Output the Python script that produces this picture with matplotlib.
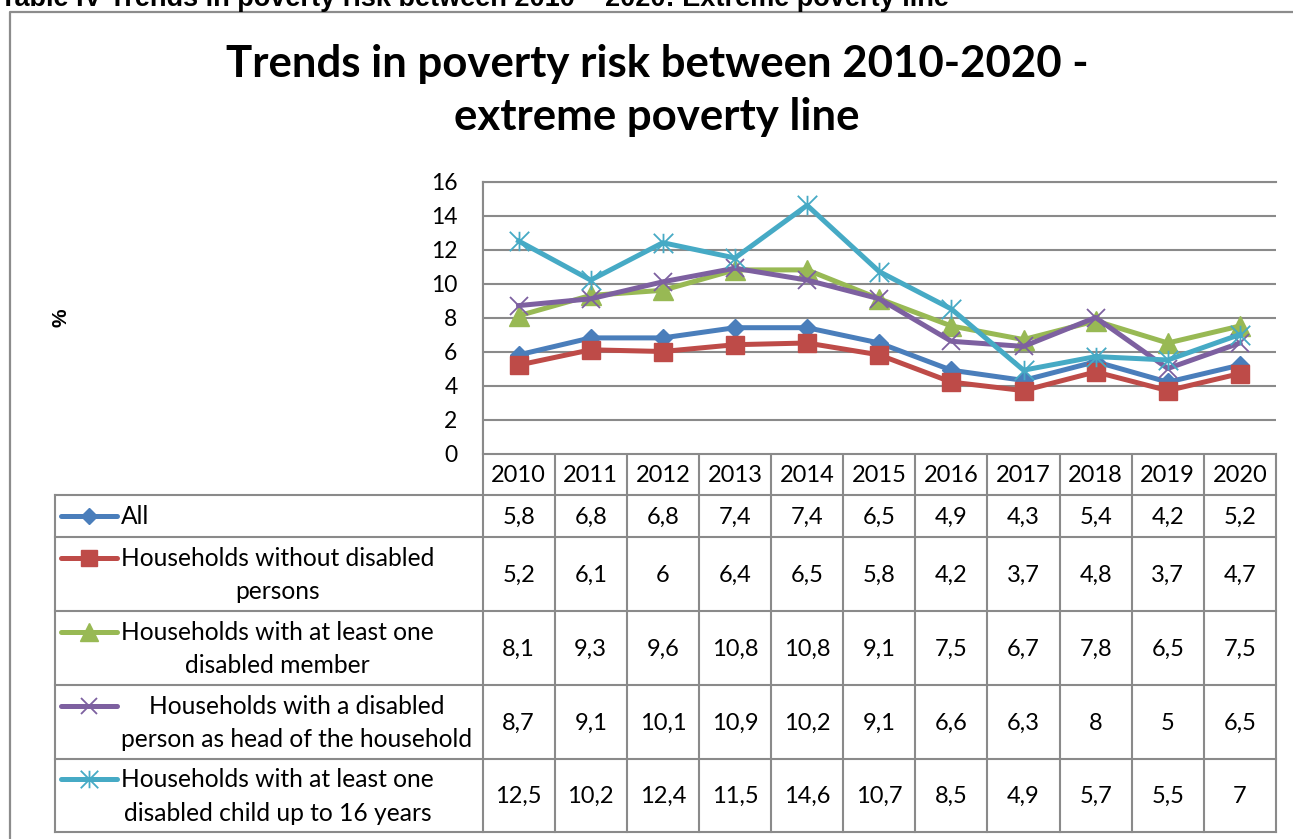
import matplotlib
matplotlib.use("Agg")
import matplotlib.pyplot as plt
from matplotlib.path import Path
from matplotlib.lines import Line2D
from matplotlib.transforms import blended_transform_factory

years = ["2010", "2011", "2012", "2013", "2014", "2015",
         "2016", "2017", "2018", "2019", "2020"]

all_hh = [5.8, 6.8, 6.8, 7.4, 7.4, 6.5, 4.9, 4.3, 5.4, 4.2, 5.2]
no_disabled = [5.2, 6.1, 6.0, 6.4, 6.5, 5.8, 4.2, 3.7, 4.8, 3.7, 4.7]
one_disabled = [8.1, 9.3, 9.6, 10.8, 10.8, 9.1, 7.5, 6.7, 7.8, 6.5, 7.5]
disabled_head = [8.7, 9.1, 10.1, 10.9, 10.2, 9.1, 6.6, 6.3, 8.0, 5.0, 6.5]
disabled_child = [12.5, 10.2, 12.4, 11.5, 14.6, 10.7, 8.5, 4.9, 5.7, 5.5, 7.0]

labels = [
    "All",
    "Households without disabled\npersons",
    "Households with at least one\ndisabled member",
    "Households with a disabled\nperson as head of the household",
    "Households with at least one\ndisabled child up to 16 years",
]

# excel style asterisk: an x with a vertical bar through it
star = Path([(-1, -1), (1, 1), (-1, 1), (1, -1), (0, -1), (0, 1)],
            [Path.MOVETO, Path.LINETO, Path.MOVETO, Path.LINETO, Path.MOVETO, Path.LINETO])

styles = [
    dict(color="#4A7EBB", marker="D", ms=9.5),
    dict(color="#BE4B48", marker="s", ms=13.5),
    dict(color="#98B954", marker="^", ms=15),
    dict(color="#7D60A0", marker="x", ms=13, mew=1.3),
    dict(color="#46AAC5", marker=star, ms=14, mew=1.3),
]
series = [all_hh, no_disabled, one_disabled, disabled_head, disabled_child]

W, H = 1293, 839
BODY = "Lato"
FS = 17
GRID = "#8A8A8A"

fig = plt.figure(figsize=(W / 100, H / 100), dpi=100)

def box(x0, y0, x1, y1):
    return [x0 / W, 1 - y1 / H, (x1 - x0) / W, (y1 - y0) / H]

# pixel overlay for borders, table and legend keys
over = fig.add_axes([0, 0, 1, 1])
over.set_xlim(0, W)
over.set_ylim(H, 0)
over.axis("off")

ax = fig.add_axes(box(482.5, 181.5, 1276, 453.5))
ax.set_xlim(-0.5, 10.5)
ax.set_ylim(0, 16)
ax.set_yticks(range(0, 17, 2))
ax.set_xticks([])
ax.yaxis.grid(True, color=GRID, lw=1.5)
ax.set_axisbelow(True)
for s in ["right", "bottom"]:
    ax.spines[s].set_visible(False)
for s in ["left", "top"]:
    ax.spines[s].set_color(GRID)
    ax.spines[s].set_linewidth(1.5)
ax.tick_params(axis="y", length=0, pad=18, labelsize=16.5)
for t in ax.get_yticklabels():
    t.set_fontfamily(BODY)

x = list(range(len(years)))
for vals, st in zip(series, styles):
    ax.plot(x, vals, color=st["color"], lw=3.6, marker=st["marker"],
            ms=st["ms"], mfc=st["color"], mec=st["color"],
            mew=st.get("mew", 1), clip_on=False, zorder=3)

# outer chart border
over.plot([10, 10, W + 5], [H + 5, 11.5, 11.5], color="#8C8C8C", lw=1.6, clip_on=False)

# caption above the chart, cut by the page edge
fig.text(0, 1 - 6 / H, "Table IV Trends in poverty risk between 2010 \u2013 2020: Extreme poverty line",
         fontsize=19.5, fontweight="bold", family="Liberation Sans", va="baseline", ha="left")

fig.text(657 / W, 1 - 77 / H, "Trends in poverty risk between 2010-2020 -",
         fontsize=31.5, fontweight="bold", family=BODY, ha="center", va="baseline")
fig.text(657 / W, 1 - 130 / H, "extreme poverty line",
         fontsize=31.5, fontweight="bold", family=BODY, ha="center", va="baseline")

fig.text(61 / W, 1 - 318 / H, "%", rotation=90, fontsize=15, fontweight="bold",
         family="Liberation Sans", ha="center", va="center")

# data table under the plot
col = blended_transform_factory(ax.transData, over.transData)
rows = [454, 495, 537, 611, 685, 759, 832]
left_px = 55
tab_kw = dict(color=GRID, lw=1.5, clip_on=False, solid_capstyle="projecting")

over.plot([482.5, 1276], [rows[0], rows[0]], **tab_kw)
for y in rows[1:]:
    over.plot([left_px, 1276], [y, y], **tab_kw)
over.plot([left_px, left_px], [rows[1], rows[-1]], **tab_kw)
over.plot([482.5, 482.5], [181.5, rows[-1]], **tab_kw)
for k in range(len(years)):
    over.plot([k + 0.5, k + 0.5], [rows[0], rows[-1]], transform=col, **tab_kw)

for i, yr in enumerate(years):
    over.text(i, (rows[0] + rows[1]) / 2 + 1, yr, transform=col, ha="center", va="center",
              fontsize=FS, family=BODY)

for r, (vals, st, lab) in enumerate(zip(series, styles, labels)):
    yc = (rows[r + 1] + rows[r + 2]) / 2
    for i, v in enumerate(vals):
        over.text(i, yc + 1, f"{v:g}".replace(".", ","), transform=col, ha="center",
                  va="center", fontsize=FS, family=BODY)
    n_lines = lab.count("\n") + 1
    key_y = yc - (n_lines - 1) * 16.5
    over.add_line(Line2D([61, 117], [key_y, key_y], color=st["color"], lw=3.6,
                         solid_capstyle="round"))
    over.plot([89], [key_y], marker=st["marker"], ms=st["ms"] * 0.9,
              color=st["color"], mew=st.get("mew", 1), clip_on=False)
    over.text(121, yc + 1, lab, ha="left", va="center", multialignment="center",
              fontsize=17.7, family=BODY, linespacing=1.55)

fig.savefig("out.png", dpi=100)
